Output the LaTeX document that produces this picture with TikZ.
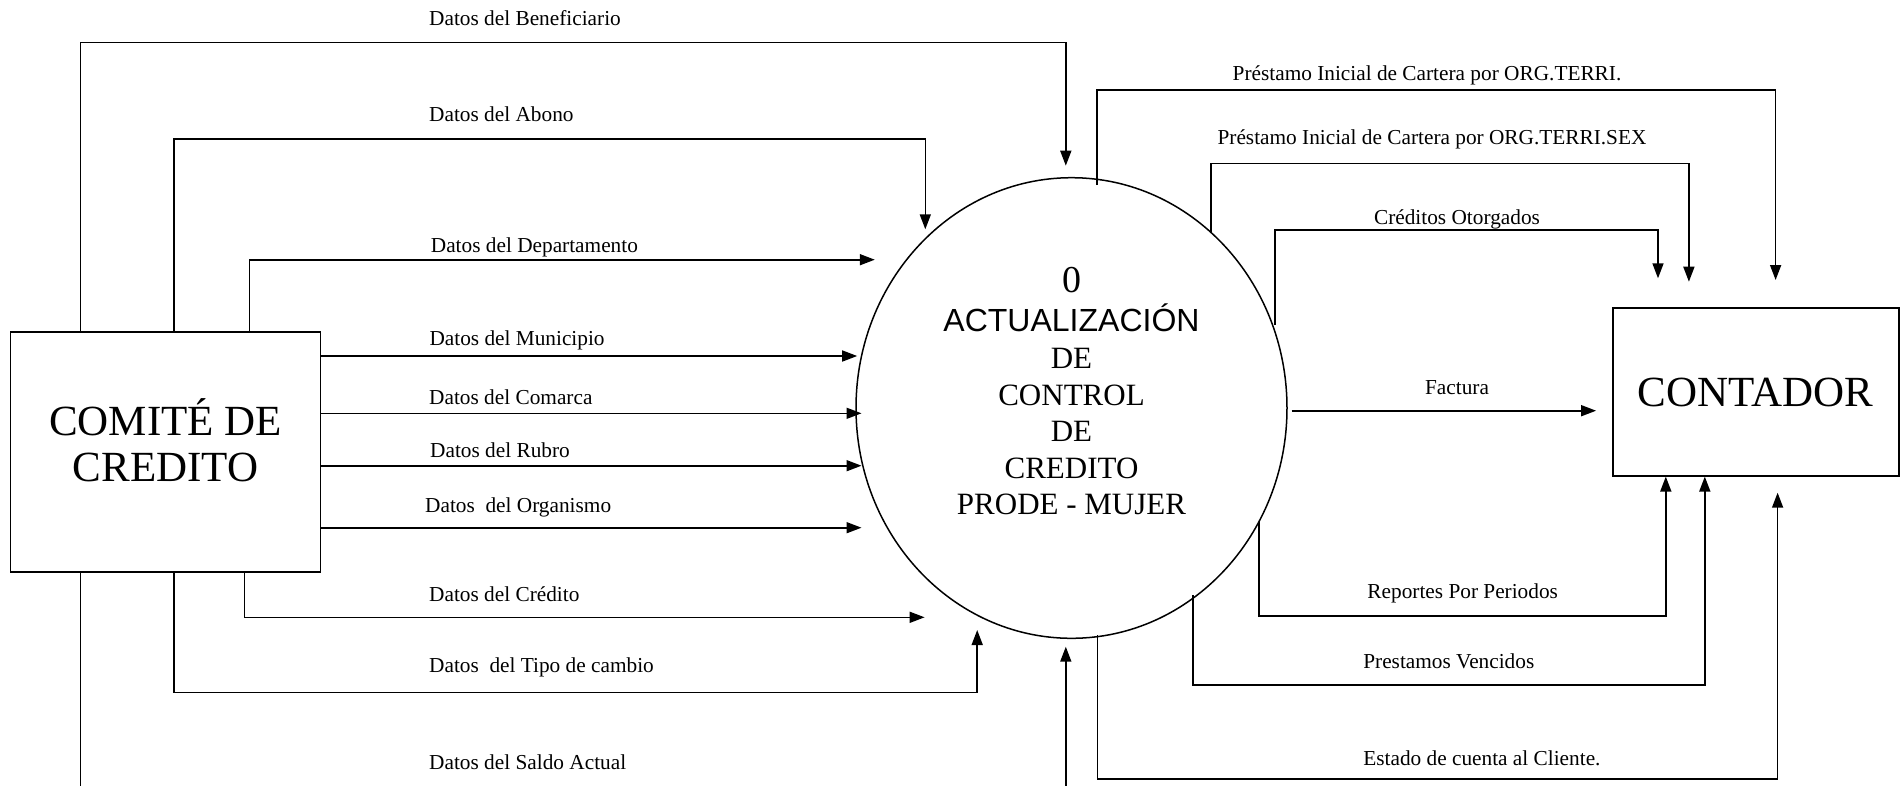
\documentclass[tikz,border=0pt]{standalone}
\usepackage{fontspec}
\setmainfont{Liberation Serif}
\setsansfont{Liberation Sans}
\usetikzlibrary{arrows.meta,shapes.geometric,calc}
\begin{document}
\begin{tikzpicture}[x=1pt,y=-1pt,
  flow/.style={line width=1.6pt,-{Triangle[length=15pt,width=11pt]}},
  lbl/.style={inner sep=0pt,font=\fontsize{21.3}{24}\selectfont},
  entity/.style={draw,line width=1.8pt,inner sep=0pt},
  big/.style={inner sep=0pt,anchor=base,font=\fontsize{43}{48}\selectfont},
  ptext/.style={inner sep=0pt,anchor=base,font=\fontsize{31}{36}\selectfont}]
\clip (0,0) rectangle (1904,785);
\fill[white] (0,0) rectangle (1904,785);

% entities and process
\node[entity,minimum width=310pt,minimum height=240pt] (comite) at (165.5,451.7) {};
\node[big] (comiteA) at (165.5,435) {COMITÉ DE};
\node[big] (comiteB) at (165.5,481) {CREDITO};
\node[entity,minimum width=285.7pt,minimum height=168pt] (contador) at (1755.75,391.7) {};
\node[big] (contadorT) at (1755.6,406.7) {CONTADOR};
\node[draw,ellipse,line width=1.5pt,minimum width=431pt,minimum height=460.6pt,inner sep=0pt] (proc) at (1071.5,408) {};
\node[ptext,font=\fontsize{38}{40}\selectfont] (p0) at (1071.5,292) {0};
\node[ptext,font=\sffamily\fontsize{32}{36}\selectfont] (p1) at (1071.5,331) {ACTUALIZACIÓN};
\node[ptext] (p2) at (1071.5,368) {DE};
\node[ptext] (p3) at (1071.5,405) {CONTROL};
\node[ptext] (p4) at (1071.5,441.5) {DE};
\node[ptext] (p5) at (1071.5,478) {CREDITO};
\node[ptext] (p6) at (1071.5,514) {PRODE - MUJER};

% free arrow ends
\coordinate (tBen) at (1065.8,165.7);
\coordinate (tAbo) at (925.3,229.3);
\coordinate (tDep) at (874.8,259.7);
\coordinate (tMun) at (857.2,356);
\coordinate (tCom) at (861.5,413.3);
\coordinate (tRub) at (861.5,465.7);
\coordinate (tOrg) at (861.5,527.7);
\coordinate (tCre) at (924.6,617.3);
\coordinate (tTip) at (977.2,630);
\coordinate (tSal) at (1065.8,646.7);
\coordinate (tT1) at (1775.6,280);
\coordinate (tT2) at (1688.9,281.7);
\coordinate (tCO) at (1658,278.3);
\coordinate (tFac) at (1596.1,410.7);
\coordinate (tEst) at (1777.6,492.7);

% left connectors
\draw[flow] ([xshift=70.9pt]comite.north west) -- ++(0,-288.4) -| (tBen);
\draw[flow] ([xshift=164.2pt]comite.north west) -- ++(0,-191.7) -| (tAbo);
\draw[flow] ([xshift=239.9pt]comite.north west) |- (tDep);
\draw[flow] (comite.east |- tMun) -- (tMun);
\draw[flow] (comite.east |- tCom) -- (tCom);
\draw[flow] (comite.east |- tRub) -- (tRub);
\draw[flow] (comite.east |- tOrg) -- (tOrg);
\draw[flow] ([xshift=235pt]comite.south west) |- (tCre);
\draw[flow] ([xshift=164.2pt]comite.south west) -- ++(0,120) -| (tTip);
\draw[flow] ([xshift=70.9pt]comite.south west) -- ++(0,240) -| (tSal);

% right connectors
\draw[flow] ($(proc.center)+(25.2,-223)$) -- ++(0,-95) -| (tT1);
\draw[flow] ($(proc.center)+(139.5,-174.7)$) -- ++(0,-70) -| (tT2);
\draw[flow] ($(proc.center)+(203.3,-83)$) -- ++(0,-95) -| (tCO);
\draw[flow] ($(proc.center)+(220.1,2.7)$) -- (tFac);
\draw[flow] ($(proc.center)+(187.2,113.7)$) -- ++(0,94) -| ([xshift=53.8pt]contador.south west);
\draw[flow] ($(proc.center)+(121.3,187)$) -- ++(0,90) -| ([xshift=92.8pt]contador.south west);
\draw[flow] ($(proc.center)+(25.9,227)$) -- ++(0,144) -| (tEst);

% labels left
\node[lbl,anchor=base west] (lBen) at (429,25) {Datos del Beneficiario};
\node[lbl,anchor=base west] (lAbo) at (429,121.5) {Datos del Abono};
\node[lbl,anchor=base west] (lDep) at (430.7,252) {Datos del Departamento};
\node[lbl,anchor=base west] (lMun) at (429.3,345.5) {Datos del Municipio};
\node[lbl,anchor=base west] (lCom) at (429,404.5) {Datos del Comarca};
\node[lbl,anchor=base west] (lRub) at (430,457) {Datos del Rubro};
\node[lbl,anchor=base west] (lOrg) at (425,512) {Datos\ \ del Organismo};
\node[lbl,anchor=base west] (lCre) at (429,601) {Datos del Crédito};
\node[lbl,anchor=base west] (lTip) at (429,672.5) {Datos\ \ del Tipo de cambio};
\node[lbl,anchor=base west] (lSal) at (429,769.5) {Datos del Saldo Actual};

% labels right
\node[lbl,anchor=base] (lT1) at (1427,80.5) {Préstamo Inicial de Cartera por ORG.TERRI.};
\node[lbl,anchor=base] (lT2) at (1432,144) {Préstamo Inicial de Cartera por ORG.TERRI.SEX};
\node[lbl,anchor=base] (lCO) at (1457,224) {Créditos Otorgados};
\node[lbl,anchor=base] (lFac) at (1457,394) {Factura};
\node[lbl,anchor=base] (lRep) at (1462.7,598.8) {Reportes Por Periodos};
\node[lbl,anchor=base] (lVen) at (1448.8,668) {Prestamos Vencidos};
\node[lbl,anchor=base] (lEst) at (1481.9,765.5) {Estado de cuenta al Cliente.};
\end{tikzpicture}
\end{document}
